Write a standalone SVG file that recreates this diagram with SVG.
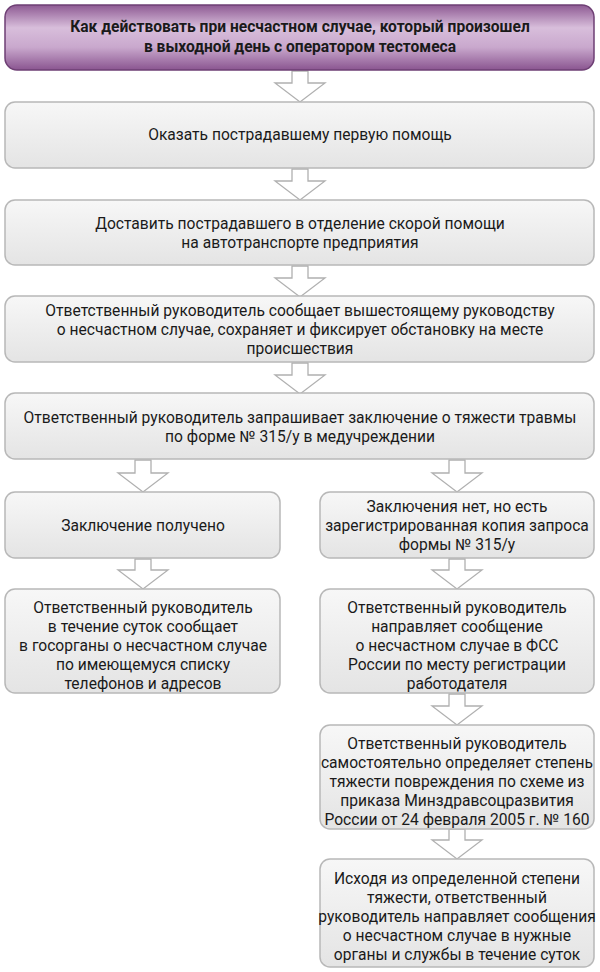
<svg xmlns="http://www.w3.org/2000/svg" width="600" height="972" viewBox="0 0 600 972">
<style>
.b{fill:url(#g);stroke:#b8b8b8;stroke-width:1.5}
.t{font-family:Roboto,"Noto Sans",sans-serif;font-size:15.6px;fill:#1a1a1a;text-anchor:middle}
.a{fill:#fff;stroke:#b0b0b0;stroke-width:1.3}
</style>
<defs>
<linearGradient id="g" x1="0" y1="0" x2="0" y2="1"><stop offset="0" stop-color="#f7f7f7"/><stop offset="1" stop-color="#e4e4e4"/></linearGradient>
<linearGradient id="p" x1="0" y1="0" x2="0" y2="1"><stop offset="0" stop-color="#8e5a93"/><stop offset="0.35" stop-color="#d8bedb"/><stop offset="0.65" stop-color="#c9a8cd"/><stop offset="1" stop-color="#8a5590"/></linearGradient>
</defs>
<g id="connectors">
<path class="a" d="M292 71v12h-17l25 19l25-19h-17v-12z"/>
<path class="a" d="M292 169v12h-17l25 19l25-19h-17v-12z"/>
<path class="a" d="M292 266v12h-17l25 19l25-19h-17v-12z"/>
<path class="a" d="M292 363v12h-17l25 19l25-19h-17v-12z"/>
<path class="a" d="M135 460v13h-17l25 19l25-19h-17v-13z"/>
<path class="a" d="M449 460v13h-17l25 19l25-19h-17v-13z"/>
<path class="a" d="M135 559v11h-17l25 19l25-19h-17v-11z"/>
<path class="a" d="M449 559v11h-17l25 19l25-19h-17v-11z"/>
<path class="a" d="M449 694v12h-17l25 19l25-19h-17v-12z"/>
<path class="a" d="M449 829v11h-17l25 19l25-19h-17v-11z"/>
</g>
<g id="title"><rect x="5" y="5" width="589" height="65" rx="12" fill="url(#p)" stroke="#6e3f74" stroke-width="1.5"/>
<text class="t" style="font-weight:bold"><tspan x="300" y="32">Как действовать при несчастном случае, который произошел</tspan><tspan x="300" y="52">в выходной день с оператором тестомеса</tspan></text></g>
<g id="n1"><rect class="b" x="5" y="102" width="589" height="66" rx="10"/><text class="t" x="300" y="140">Оказать пострадавшему первую помощь</text></g>
<g id="n2"><rect class="b" x="5" y="200" width="589" height="65" rx="10"/><text class="t"><tspan x="300" y="229">Доставить пострадавшего в отделение скорой помощи</tspan><tspan x="300" y="248">на автотранспорте предприятия</tspan></text></g>
<g id="n3"><rect class="b" x="5" y="296" width="589" height="66" rx="10"/><text class="t"><tspan x="300" y="316">Ответственный руководитель сообщает вышестоящему руководству</tspan><tspan x="300" y="335">о несчастном случае, сохраняет и фиксирует обстановку на месте</tspan><tspan x="300" y="354">происшествия</tspan></text></g>
<g id="n4"><rect class="b" x="5" y="393" width="589" height="66" rx="10"/><text class="t"><tspan x="300" y="423">Ответственный руководитель запрашивает заключение о тяжести травмы</tspan><tspan x="300" y="442">по форме № 315/у в медучреждении</tspan></text></g>
<g id="n5"><rect class="b" x="5" y="492" width="275" height="66" rx="10"/><text class="t" x="143" y="531">Заключение получено</text></g>
<g id="n6"><rect class="b" x="320" y="492" width="274" height="66" rx="10"/><text class="t"><tspan x="457" y="512">Заключения нет, но есть</tspan><tspan x="457" y="531">зарегистрированная копия запроса</tspan><tspan x="457" y="550">формы № 315/у</tspan></text></g>
<g id="n7"><rect class="b" x="5" y="589" width="275" height="104" rx="10"/><text class="t"><tspan x="143" y="613">Ответственный руководитель</tspan><tspan x="143" y="632">в течение суток сообщает</tspan><tspan x="143" y="651">в госорганы о несчастном случае</tspan><tspan x="143" y="670">по имеющемуся списку</tspan><tspan x="143" y="689">телефонов и адресов</tspan></text></g>
<g id="n8"><rect class="b" x="320" y="589" width="274" height="104" rx="10"/><text class="t"><tspan x="457" y="613">Ответственный руководитель</tspan><tspan x="457" y="632">направляет сообщение</tspan><tspan x="457" y="651">о несчастном случае в ФСС</tspan><tspan x="457" y="670">России по месту регистрации</tspan><tspan x="457" y="689">работодателя</tspan></text></g>
<g id="n9"><rect class="b" x="320" y="725" width="274" height="104" rx="10"/><text class="t"><tspan x="457" y="749">Ответственный руководитель</tspan><tspan x="457" y="768">самостоятельно определяет степень</tspan><tspan x="457" y="787">тяжести повреждения по схеме из</tspan><tspan x="457" y="806">приказа Минздравсоцразвития</tspan><tspan x="457" y="825">России от 24 февраля 2005 г. № 160</tspan></text></g>
<g id="n10"><rect class="b" x="320" y="859" width="274" height="108" rx="10"/><text class="t"><tspan x="457" y="884">Исходя из определенной степени</tspan><tspan x="457" y="903">тяжести, ответственный</tspan><tspan x="457" y="922">руководитель направляет сообщения</tspan><tspan x="457" y="941">о несчастном случае в нужные</tspan><tspan x="457" y="960">органы и службы в течение суток</tspan></text></g>
</svg>
